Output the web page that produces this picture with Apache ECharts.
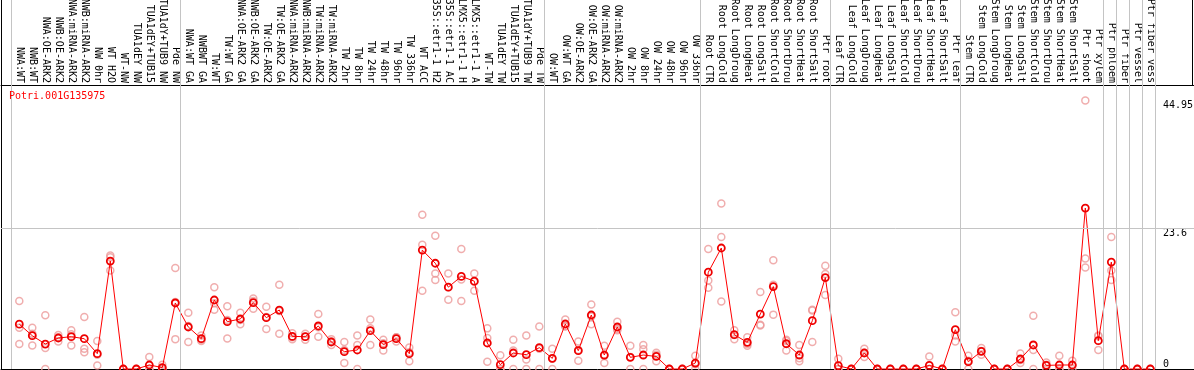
<!DOCTYPE html>
<html>
<head>
<meta charset="utf-8">
<script src="https://cdn.jsdelivr.net/npm/echarts@6/dist/echarts.min.js"></script>
<style>
html,body{margin:0;padding:0;background:#fff;}
#chart{width:1194px;height:370px;}
</style>
</head>
<body>
<div id="chart"></div>
<script>
// ---- data ----
var geneName = "Potri.001G135975";

var categories = ["NWA:WT","NWB:WT","NWA:OE-ARK2","NWB:OE-ARK2","NWA:miRNA-ARK2","NWB:miRNA-ARK2","NW 0hr","WT H2O","WT-NW","TUA1dEY NW","TUA1dEY+TUB15","TUA1dY+TUB9 NW","Pde NW",
"NWA:WT GA","NWBWT GA","TW:WT","TW:WT GA","NWA:OE-ARK2 GA","NWB:OE-ARK2 GA","TW:OE-ARK2","TW:OE-ARK2 GA","NWA:miRNA-ARK2","NWB:miRNA-ARK2","TW:miRNA-ARK2","TW:miRNA-ARK2","TW 2hr","TW 8hr","TW 24hr","TW 48hr","TW 96hr","TW 336hr","WT ACC","35S::etr1-1 H2","35S::etr1-1 AC","LMX5::etr1-1 H","LMX5::etr1-1 A","WT-TW","TUA1dEY TW","TUA1dEY+TUB15","TUA1dY+TUB9 TW","Pde TW",
"OW:WT","OW:WT GA","OW:OE-ARK2","OW:OE-ARK2 GA","OW:miRNA-ARK2","OW:miRNA-ARK2","OW 2hr","OW 8hr","OW 24hr","OW 48hr","OW 96hr","OW 336hr",
"Root CTR","Root LongCold","Root LongDroug","Root LongHeat","Root LongSalt","Root ShortCold","Root ShortDrou","Root ShortHeat","Root ShortSalt","Ptr root",
"Leaf CTR","Leaf LongCold","Leaf LongDroug","Leaf LongHeat","Leaf LongSalt","Leaf ShortCold","Leaf ShortDrou","Leaf ShortHeat","Leaf ShortSalt","Ptr leaf",
"Stem CTR","Stem LongCold","Stem LongDroug","Stem LongHeat","Stem LongSalt","Stem ShortCold","Stem ShortDrou","Stem ShortHeat","Stem ShortSalt","Ptr shoot",
"Ptr xylem","Ptr phloem","Ptr fiber","Ptr vessel","Ptr fiber vess"];

// sizes of the sample groups separated by vertical lines
var groupSizes = [13, 28, 12, 10, 10, 11, 1, 1, 1, 1];

// mean expression per sample
var means = [7.5,5.57,4.18,5.19,5.41,5.07,2.56,18.07,0,0,0.67,0.24,11.05,
7.03,5.07,11.55,7.92,8.37,11.1,8.59,9.87,5.46,5.41,7.2,4.52,2.9,3.18,6.41,4.07,5.07,2.56,19.9,17.7,13.7,15.5,14.7,4.35,0.72,2.68,2.4,3.57,
1.78,7.53,3.06,9.04,2.34,7.03,1.95,2.34,2.1,0,0,1.0,
16.2,20.25,5.74,4.46,9.2,13.8,4.23,2.34,8.08,15.3,
0.55,0,2.68,0,0,0,0,0.6,0,6.58,
1.22,2.95,0,0,1.67,4.02,0.6,0.67,0.67,26.94,
4.74,17.9,0,0,0];

// replicate values per sample
var replicates = [
[11.4,6.9,4.2],[6.9,5.9,3.95],[9.0,3.5,0],[5.7,5.3,4.6],[6.5,5.8,3.95],[8.7,3.4,2.8],[4.7,2.4,0.6],[19.0,18.7,16.5],[0,0,0],[0,0,0],[2.0,0,0],[0.7,0,0],[16.9,11.2,5.0],
[9.4,7.2,4.5],[5.6,4.9,4.7],[13.7,11.0,9.9],[10.5,8.2,5.1],[9.4,8.2,7.5],[11.8,11.4,10.1],[10.4,8.7,6.7],[14.1,9.7,5.9],[6.0,5.3,5.0],[5.9,5.4,4.9],[9.2,7.0,5.4],[5.0,4.6,4.0],[4.5,3.2,1.0],[5.6,4.0,0],[8.3,6.8,4.0],[4.9,4.3,3.1],[5.3,5.3,4.6],[3.6,2.8,1.3],[25.8,20.8,13.1],[22.3,16.0,14.9],[16.0,13.7,11.6],[20.1,15.0,11.4],[16.0,14.6,13.1],[6.8,5.2,1.2],[2.3,0,0],[4.9,3.1,0],[5.6,1.6,0],[7.1,3.4,0],
[3.4,1.7,0],[8.3,7.2,7.1],[4.6,3.2,1.4],[10.8,8.8,7.5],[3.9,2.2,1.0],[7.9,6.7,6.5],[3.9,2.0,0],[4.0,3.3,0],[2.7,2.4,1.3],[0,0,0],[0,0,0],[2.2,0.8,0],
[20.1,14.8,13.6],[27.7,22.1,11.3],[6.5,5.7,5.0],[5.3,4.2,3.9],[12.9,7.4,7.3],[18.2,14.1,9.1],[4.9,4.7,3.1],[4.0,1.8,1.3],[9.9,9.8,4.5],[17.3,15.9,12.4],
[1.7,0,0],[0,0,0],[3.4,2.7,2.0],[0,0,0],[0,0,0],[0,0,0],[0,0,0],[2.1,0,0],[0,0,0],[9.5,5.6,4.6],
[2.2,1.4,0],[3.5,3.0,2.4],[0,0,0],[0,0,0],[2.6,1.5,1.0],[8.9,3.2,0],[1.1,0.7,0],[2.2,0,0],[1.4,0.6,0],[44.95,18.5,17.0],
[5.6,5.5,3.2],[22.1,16.5,14.9],[0,0,0],[0,0,0],[0,0,0]];

var yTickTop = [23.6, 44.95];
var yTickBottom = [0];
var hLine = 23.6;

// ---- build ----
var positions = categories.map(function(_, i){ return i + 1; });
var meanData = means.map(function(v, i){ return [i + 1, v]; });
var repData = [];
replicates.forEach(function(arr, i){ arr.forEach(function(v){ repData.push([i + 1, v]); }); });

var sepLines = [{xAxis: 0.38}];
var acc = 0;
groupSizes.forEach(function(n){ acc += n; sepLines.push({xAxis: acc + 0.38}); });

var FONT = "DejaVu Sans Mono";
var X_MIN = -0.4077, X_MAX = 91.36, Y_MAX = 61.76;

var chart = echarts.init(document.getElementById('chart'), null, {renderer: 'canvas'});
chart.setOption({
  animation: false,
  backgroundColor: '#ffffff',
  title: {
    text: geneName, left: 9, top: 91, padding: 0,
    textStyle: {color: '#ff0000', fontFamily: FONT, fontSize: 10, fontWeight: 'normal'}
  },
  grid: [
    {left: 1, right: 0, top: 0, bottom: 1, containLabel: false, outerBoundsMode: 'none'},
    {left: 1, right: 0, top: 85, bottom: 1, containLabel: false, outerBoundsMode: 'none'}
  ],
  xAxis: [{
    gridIndex: 0, type: 'value', min: X_MIN, max: X_MAX, position: 'bottom',
    axisLine: {show: true, onZero: false, lineStyle: {color: '#000', width: 1}},
    axisTick: {show: false}, splitLine: {show: false}, axisLabel: {show: false}
  }, {
    gridIndex: 1, type: 'value', min: X_MIN, max: X_MAX, position: 'top',
    axisLine: {show: true, onZero: false, lineStyle: {color: '#000', width: 1}},
    axisTick: {show: false}, splitLine: {show: false},
    axisLabel: {
      show: true, customValues: positions, rotate: 90, margin: 2,
      fontFamily: FONT, fontSize: 10, color: '#000',
      formatter: function(v){ return categories[Math.round(v) - 1] || ''; }
    }
  }],
  yAxis: [{
    gridIndex: 0, type: 'value', min: 0, max: Y_MAX, position: 'left',
    axisLine: {show: true, onZero: false, lineStyle: {color: '#000', width: 1}},
    axisTick: {show: false}, splitLine: {show: false}, axisLabel: {show: false}
  }, {
    gridIndex: 0, type: 'value', min: 0, max: Y_MAX, position: 'right', offset: -31,
    axisLine: {show: false}, axisTick: {show: false}, splitLine: {show: false},
    axisLabel: {show: true, customValues: yTickTop, margin: 0, align: 'left', verticalAlign: 'top',
      fontFamily: FONT, fontSize: 10, color: '#000', formatter: function(v){ return String(v); }}
  }, {
    gridIndex: 0, type: 'value', min: 0, max: Y_MAX, position: 'right', offset: -31,
    axisLine: {show: false}, axisTick: {show: false}, splitLine: {show: false},
    axisLabel: {show: true, customValues: yTickBottom, margin: 0, align: 'left', verticalAlign: 'bottom',
      fontFamily: FONT, fontSize: 10, color: '#000', formatter: function(v){ return String(v); }}
  }, {
    gridIndex: 1, type: 'value', min: 0, max: 1, show: false
  }],
  graphic: [{
    type: 'line', shape: {x1: 1192.5, y1: 0, x2: 1192.5, y2: 85},
    style: {stroke: '#000', lineWidth: 1}, z: 10
  }],
  series: [{
    type: 'scatter', xAxisIndex: 0, yAxisIndex: 0, z: 2,
    data: repData, symbol: 'circle', symbolSize: 7, clip: false,
    itemStyle: {color: 'rgba(0,0,0,0)', borderColor: '#ec9a9a', borderWidth: 1.5},
    markLine: {
      silent: true, symbol: ['none', 'none'], label: {show: false},
      lineStyle: {color: '#c4c4c4', width: 1, type: 'solid'},
      data: sepLines.concat([{yAxis: hLine}])
    }
  }, {
    type: 'line', xAxisIndex: 0, yAxisIndex: 0, z: 3,
    data: meanData, symbol: 'circle', symbolSize: 7, showSymbol: true, clip: false,
    lineStyle: {color: '#ff0000', width: 1},
    itemStyle: {color: 'rgba(0,0,0,0)', borderColor: '#ee0000', borderWidth: 1.8}
  }]
});
</script>
</body>
</html>
